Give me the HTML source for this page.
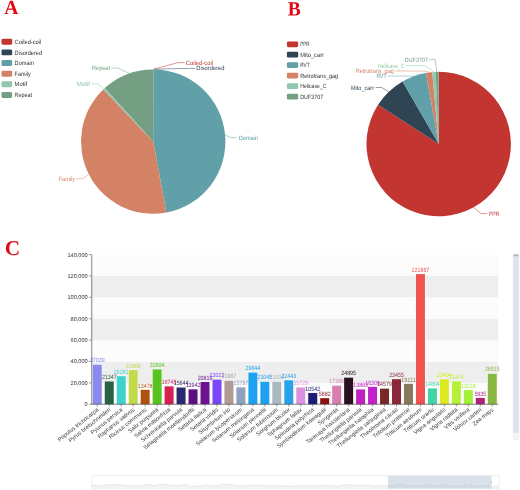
<!DOCTYPE html>
<html><head><meta charset="utf-8"><title>Figure</title>
<style>
html,body{margin:0;padding:0;background:#fff;}
body{width:520px;height:490px;overflow:hidden;font-family:"Liberation Sans", sans-serif;}
svg{display:block;}
text{font-family:"Liberation Sans", sans-serif;text-rendering:geometricPrecision;}
.pl{font-size:6.2px;}
.lg{font-size:6.2px;fill:#333;}
.ax{font-size:5.6px;fill:#333;}
.vl{font-size:6.2px;text-anchor:middle;}
.xl{font-size:5.7px;fill:#3a3a3a;text-anchor:end;}
</style></head><body>
<svg width="520" height="490" viewBox="0 0 520 490" style="will-change:transform">
<rect width="520" height="490" fill="#fff"/>

<path d="M8.37 13.25V13.96H4.50V13.25L5.45 12.99L9.97 0.87H12.73L17.23 12.99L18.20 13.25V13.96H12.54V13.25L14.01 12.99L12.79 9.63H7.91L6.74 12.99ZM10.39 2.83 8.30 8.57H12.43Z" fill="#e30613"/>
<path d="M296.11 5.57Q296.11 4.41 295.63 3.90Q295.15 3.39 294.05 3.39H292.73V8.00H294.13Q295.14 8.00 295.63 7.44Q296.11 6.89 296.11 5.57ZM297.07 11.68Q297.07 10.37 296.44 9.73Q295.81 9.08 294.37 9.08H292.73V14.45Q294.10 14.51 294.89 14.51Q296.00 14.51 296.53 13.81Q297.07 13.11 297.07 11.68ZM288.10 15.54V14.82L289.74 14.55V3.28L288.10 3.02V2.30H294.28Q296.81 2.30 298.02 3.01Q299.22 3.71 299.22 5.29Q299.22 6.48 298.51 7.34Q297.80 8.19 296.60 8.46Q298.38 8.65 299.29 9.46Q300.20 10.28 300.20 11.68Q300.20 13.61 298.83 14.60Q297.47 15.60 294.91 15.60L290.59 15.54Z" fill="#e30613"/>
<path d="M13.22 255.20Q9.73 255.20 7.76 253.37Q5.80 251.53 5.80 248.28Q5.80 244.76 7.67 242.93Q9.55 241.10 13.21 241.10Q15.63 241.10 18.23 241.79L18.29 245.09H17.36L17.07 243.10Q15.70 242.18 13.88 242.18Q11.47 242.18 10.36 243.66Q9.25 245.14 9.25 248.25Q9.25 251.13 10.41 252.64Q11.57 254.14 13.80 254.14Q14.97 254.14 15.85 253.84Q16.72 253.53 17.22 253.11L17.56 250.86H18.50L18.44 254.34Q17.50 254.70 16.01 254.95Q14.51 255.20 13.22 255.20Z" fill="#e30613"/>
<rect x="1.5" y="38.80" width="10.7" height="5.9" rx="1.4" fill="#c23531"/>
<text class="lg" x="14.60" y="43.85" textLength="26.75" lengthAdjust="spacingAndGlyphs">Coiled-coil</text>
<rect x="1.5" y="49.45" width="10.7" height="5.9" rx="1.4" fill="#2f4554"/>
<text class="lg" x="14.60" y="54.50" textLength="27.50" lengthAdjust="spacingAndGlyphs">Disordered</text>
<rect x="1.5" y="60.05" width="10.7" height="5.9" rx="1.4" fill="#61a0a8"/>
<text class="lg" x="14.60" y="65.10" textLength="19.25" lengthAdjust="spacingAndGlyphs">Domain</text>
<rect x="1.5" y="70.75" width="10.7" height="5.9" rx="1.4" fill="#d48265"/>
<text class="lg" x="14.60" y="75.80" textLength="16.00" lengthAdjust="spacingAndGlyphs">Family</text>
<rect x="1.5" y="81.35" width="10.7" height="5.9" rx="1.4" fill="#91c7ae"/>
<text class="lg" x="14.60" y="86.40" textLength="12.60" lengthAdjust="spacingAndGlyphs">Motif</text>
<rect x="1.5" y="92.05" width="10.7" height="5.9" rx="1.4" fill="#749f83"/>
<text class="lg" x="14.60" y="97.10" textLength="17.50" lengthAdjust="spacingAndGlyphs">Repeat</text>
<rect x="286.9" y="41.40" width="11.3" height="5.8" rx="1.4" fill="#c23531"/>
<text class="lg" x="300.20" y="46.40" textLength="9.50" lengthAdjust="spacingAndGlyphs">PPR</text>
<rect x="286.9" y="51.80" width="11.3" height="5.8" rx="1.4" fill="#2f4554"/>
<text class="lg" x="300.20" y="56.80" textLength="23.75" lengthAdjust="spacingAndGlyphs">Mito_carr</text>
<rect x="286.9" y="62.20" width="11.3" height="5.8" rx="1.4" fill="#61a0a8"/>
<text class="lg" x="300.20" y="67.20" textLength="9.50" lengthAdjust="spacingAndGlyphs">RVT</text>
<rect x="286.9" y="72.70" width="11.3" height="5.8" rx="1.4" fill="#d48265"/>
<text class="lg" x="300.20" y="77.70" textLength="38.00" lengthAdjust="spacingAndGlyphs">Retrotrans_gag</text>
<rect x="286.9" y="83.30" width="11.3" height="5.8" rx="1.4" fill="#91c7ae"/>
<text class="lg" x="300.20" y="88.30" textLength="26.25" lengthAdjust="spacingAndGlyphs">Helicase_C</text>
<rect x="286.9" y="93.80" width="11.3" height="5.8" rx="1.4" fill="#749f83"/>
<text class="lg" x="300.20" y="98.80" textLength="23.00" lengthAdjust="spacingAndGlyphs">DUF3707</text>
<path d="M153.20,141.60L153.20,69.40A72.2,72.2 0 0 1 153.30,69.40Z" fill="#c23531"/>
<path d="M153.20,141.60L153.30,69.40A72.2,72.2 0 0 1 153.40,69.40Z" fill="#2f4554"/>
<path d="M153.20,141.60L153.40,69.40A72.2,72.2 0 0 1 166.36,212.59Z" fill="#61a0a8"/>
<path d="M153.20,141.60L166.36,212.59A72.2,72.2 0 0 1 103.32,89.40Z" fill="#d48265"/>
<path d="M153.20,141.60L103.32,89.40A72.2,72.2 0 0 1 104.80,88.03Z" fill="#91c7ae"/>
<path d="M153.20,141.60L104.80,88.03A72.2,72.2 0 0 1 153.20,69.40Z" fill="#749f83"/>
<path d="M153.60,69.20L178.00,62.60L184.50,62.60" fill="none" stroke="#c23531" stroke-width="0.5"/>
<text class="pl" x="185.75" y="64.60" textLength="27.25" lengthAdjust="spacingAndGlyphs" fill="#c23531">Coiled-coil</text>
<path d="M154.00,69.20L188.00,68.40L195.00,68.40" fill="none" stroke="#2f4554" stroke-width="0.5"/>
<text class="pl" x="196.25" y="70.35" textLength="28.25" lengthAdjust="spacingAndGlyphs" fill="#2f4554">Disordered</text>
<path d="M225.10,135.00L231.00,137.60L236.50,137.60" fill="none" stroke="#61a0a8" stroke-width="0.5"/>
<text class="pl" x="238.75" y="139.60" textLength="19.25" lengthAdjust="spacingAndGlyphs" fill="#61a0a8">Domain</text>
<path d="M88.20,175.00L82.50,178.80L76.30,178.80" fill="none" stroke="#d48265" stroke-width="0.5"/>
<text class="pl" x="58.75" y="180.85" textLength="16.25" lengthAdjust="spacingAndGlyphs" fill="#d48265">Family</text>
<path d="M104.30,89.20L97.50,83.80L91.30,83.80" fill="none" stroke="#91c7ae" stroke-width="0.5"/>
<text class="pl" x="76.75" y="85.85" textLength="13.25" lengthAdjust="spacingAndGlyphs" fill="#91c7ae">Motif</text>
<path d="M129.30,73.30L117.50,68.00L111.30,68.00" fill="none" stroke="#749f83" stroke-width="0.5"/>
<text class="pl" x="92.00" y="70.10" textLength="18.00" lengthAdjust="spacingAndGlyphs" fill="#749f83">Repeat</text>
<path d="M438.70,144.05L438.70,71.85A72.2,72.2 0 1 1 378.08,104.83Z" fill="#c23531"/>
<path d="M438.70,144.05L378.08,104.83A72.2,72.2 0 0 1 402.60,81.52Z" fill="#2f4554"/>
<path d="M438.70,144.05L402.60,81.52A72.2,72.2 0 0 1 425.91,72.99Z" fill="#61a0a8"/>
<path d="M438.70,144.05L425.91,72.99A72.2,72.2 0 0 1 432.28,72.14Z" fill="#d48265"/>
<path d="M438.70,144.05L432.28,72.14A72.2,72.2 0 0 1 435.80,71.91Z" fill="#91c7ae"/>
<path d="M438.70,144.05L435.80,71.91A72.2,72.2 0 0 1 438.70,71.85Z" fill="#749f83"/>
<path d="M473.80,207.40L480.80,213.60L487.30,213.60" fill="none" stroke="#c23531" stroke-width="0.5"/>
<text class="pl" x="488.80" y="215.80" textLength="10.40" lengthAdjust="spacingAndGlyphs" fill="#c23531">PPR</text>
<path d="M388.50,91.60L381.70,87.50L375.60,87.50" fill="none" stroke="#2f4554" stroke-width="0.5"/>
<text class="pl" x="351.00" y="89.60" textLength="23.00" lengthAdjust="spacingAndGlyphs" fill="#2f4554">Mito_carr</text>
<path d="M414.50,76.30L408.00,76.10L387.90,76.10" fill="none" stroke="#61a0a8" stroke-width="0.5"/>
<text class="pl" x="376.50" y="78.10" textLength="10.00" lengthAdjust="spacingAndGlyphs" fill="#61a0a8">RVT</text>
<path d="M430.70,72.40L424.00,71.00L395.20,71.00" fill="none" stroke="#d48265" stroke-width="0.5"/>
<text class="pl" x="355.80" y="72.90" textLength="38.00" lengthAdjust="spacingAndGlyphs" fill="#d48265">Retrotrans_gag</text>
<path d="M434.00,72.00L425.00,65.50L405.80,65.50" fill="none" stroke="#91c7ae" stroke-width="0.5"/>
<text class="pl" x="377.90" y="67.50" textLength="26.50" lengthAdjust="spacingAndGlyphs" fill="#91c7ae">Helicase_C</text>
<path d="M436.80,72.00L435.20,59.60L429.20,59.60" fill="none" stroke="#749f83" stroke-width="0.5"/>
<text class="pl" x="404.80" y="61.70" textLength="23.10" lengthAdjust="spacingAndGlyphs" fill="#749f83">DUF3707</text>
<rect x="91.3" y="382.86" width="406.95" height="21.39" fill="#fcfcfc"/>
<rect x="91.3" y="361.47" width="406.95" height="21.39" fill="#eeeeee"/>
<rect x="91.3" y="340.08" width="406.95" height="21.39" fill="#fcfcfc"/>
<rect x="91.3" y="318.69" width="406.95" height="21.39" fill="#eeeeee"/>
<rect x="91.3" y="297.30" width="406.95" height="21.39" fill="#fcfcfc"/>
<rect x="91.3" y="275.91" width="406.95" height="21.39" fill="#eeeeee"/>
<rect x="91.3" y="254.52" width="406.95" height="21.39" fill="#fcfcfc"/>
<path d="M89.0,404.25H91.3" stroke="#333" stroke-width="0.5"/>
<text class="ax" x="87.7" y="406.25" text-anchor="end">0</text>
<path d="M89.0,382.86H91.3" stroke="#333" stroke-width="0.5"/>
<text class="ax" x="87.7" y="384.86" text-anchor="end">20,000</text>
<path d="M89.0,361.47H91.3" stroke="#333" stroke-width="0.5"/>
<text class="ax" x="87.7" y="363.47" text-anchor="end">40,000</text>
<path d="M89.0,340.08H91.3" stroke="#333" stroke-width="0.5"/>
<text class="ax" x="87.7" y="342.08" text-anchor="end">60,000</text>
<path d="M89.0,318.69H91.3" stroke="#333" stroke-width="0.5"/>
<text class="ax" x="87.7" y="320.69" text-anchor="end">80,000</text>
<path d="M89.0,297.30H91.3" stroke="#333" stroke-width="0.5"/>
<text class="ax" x="87.7" y="299.30" text-anchor="end">100,000</text>
<path d="M89.0,275.91H91.3" stroke="#333" stroke-width="0.5"/>
<text class="ax" x="87.7" y="277.91" text-anchor="end">120,000</text>
<path d="M89.0,254.52H91.3" stroke="#333" stroke-width="0.5"/>
<text class="ax" x="87.7" y="256.52" text-anchor="end">140,000</text>
<rect x="92.28" y="364.14" width="10.0" height="40.11" fill="#fff"/>
<rect x="92.78" y="364.64" width="9.0" height="39.61" fill="#8b8bef"/>
<rect x="104.25" y="380.92" width="10.0" height="23.33" fill="#fff"/>
<rect x="104.75" y="381.42" width="9.0" height="22.83" fill="#2a6244"/>
<rect x="116.22" y="375.64" width="10.0" height="28.61" fill="#fff"/>
<rect x="116.72" y="376.14" width="9.0" height="28.11" fill="#3ed3cb"/>
<rect x="128.19" y="369.56" width="10.0" height="34.69" fill="#fff"/>
<rect x="128.69" y="370.06" width="9.0" height="34.19" fill="#c2d94c"/>
<rect x="140.16" y="389.34" width="10.0" height="14.91" fill="#fff"/>
<rect x="140.66" y="389.84" width="9.0" height="14.41" fill="#b0520f"/>
<rect x="152.13" y="368.88" width="10.0" height="35.37" fill="#fff"/>
<rect x="152.63" y="369.38" width="9.0" height="34.87" fill="#58c31f"/>
<rect x="164.10" y="385.84" width="10.0" height="18.41" fill="#fff"/>
<rect x="164.60" y="386.34" width="9.0" height="17.91" fill="#d61f52"/>
<rect x="176.07" y="387.02" width="10.0" height="17.23" fill="#fff"/>
<rect x="176.57" y="387.52" width="9.0" height="16.73" fill="#29296f"/>
<rect x="188.04" y="388.84" width="10.0" height="15.41" fill="#fff"/>
<rect x="188.54" y="389.34" width="9.0" height="14.91" fill="#5d0f82"/>
<rect x="200.01" y="381.48" width="10.0" height="22.77" fill="#fff"/>
<rect x="200.51" y="381.98" width="9.0" height="22.27" fill="#6b1192"/>
<rect x="211.98" y="379.13" width="10.0" height="25.12" fill="#fff"/>
<rect x="212.48" y="379.63" width="9.0" height="24.62" fill="#7b46f5"/>
<rect x="223.94" y="380.26" width="10.0" height="23.99" fill="#fff"/>
<rect x="224.44" y="380.76" width="9.0" height="23.49" fill="#b09a96"/>
<rect x="235.91" y="386.86" width="10.0" height="17.39" fill="#fff"/>
<rect x="236.41" y="387.36" width="9.0" height="16.89" fill="#8fa1c0"/>
<rect x="247.88" y="372.05" width="10.0" height="32.20" fill="#fff"/>
<rect x="248.38" y="372.55" width="9.0" height="31.70" fill="#1fa1f1"/>
<rect x="259.85" y="381.24" width="10.0" height="23.01" fill="#fff"/>
<rect x="260.35" y="381.74" width="9.0" height="22.51" fill="#1fa1f1"/>
<rect x="271.82" y="381.19" width="10.0" height="23.06" fill="#fff"/>
<rect x="272.32" y="381.69" width="9.0" height="22.56" fill="#a9b8c1"/>
<rect x="283.79" y="379.75" width="10.0" height="24.50" fill="#fff"/>
<rect x="284.29" y="380.25" width="9.0" height="24.00" fill="#28a1e9"/>
<rect x="295.76" y="386.93" width="10.0" height="17.32" fill="#fff"/>
<rect x="296.26" y="387.43" width="9.0" height="16.82" fill="#dd91e1"/>
<rect x="307.73" y="392.48" width="10.0" height="11.77" fill="#fff"/>
<rect x="308.23" y="392.98" width="9.0" height="11.27" fill="#1c1c79"/>
<rect x="319.70" y="397.67" width="10.0" height="6.58" fill="#fff"/>
<rect x="320.20" y="398.17" width="9.0" height="6.08" fill="#8a1212"/>
<rect x="331.67" y="385.18" width="10.0" height="19.07" fill="#fff"/>
<rect x="332.17" y="385.68" width="9.0" height="18.57" fill="#d87fb0"/>
<rect x="343.64" y="377.12" width="10.0" height="27.13" fill="#fff"/>
<rect x="344.14" y="377.62" width="9.0" height="26.63" fill="#2a1020"/>
<rect x="355.61" y="388.90" width="10.0" height="15.35" fill="#fff"/>
<rect x="356.11" y="389.40" width="9.0" height="14.85" fill="#c121c1"/>
<rect x="367.57" y="386.31" width="10.0" height="17.94" fill="#fff"/>
<rect x="368.07" y="386.81" width="9.0" height="17.44" fill="#c121c9"/>
<rect x="379.54" y="388.16" width="10.0" height="16.09" fill="#fff"/>
<rect x="380.04" y="388.66" width="9.0" height="15.59" fill="#7a2828"/>
<rect x="391.51" y="378.66" width="10.0" height="25.59" fill="#fff"/>
<rect x="392.01" y="379.16" width="9.0" height="25.09" fill="#8a2839"/>
<rect x="403.48" y="383.31" width="10.0" height="20.94" fill="#fff"/>
<rect x="403.98" y="383.81" width="9.0" height="20.44" fill="#857a5a"/>
<rect x="415.45" y="273.63" width="10.0" height="130.62" fill="#fff"/>
<rect x="415.95" y="274.13" width="9.0" height="130.12" fill="#f05151"/>
<rect x="427.42" y="387.92" width="10.0" height="16.33" fill="#fff"/>
<rect x="427.92" y="388.42" width="9.0" height="15.83" fill="#40d5a6"/>
<rect x="439.39" y="378.72" width="10.0" height="25.53" fill="#fff"/>
<rect x="439.89" y="379.22" width="9.0" height="25.03" fill="#dcea1f"/>
<rect x="451.36" y="380.78" width="10.0" height="23.47" fill="#fff"/>
<rect x="451.86" y="381.28" width="9.0" height="22.97" fill="#b6f03b"/>
<rect x="463.33" y="389.61" width="10.0" height="14.64" fill="#fff"/>
<rect x="463.83" y="390.11" width="9.0" height="14.14" fill="#a5ee3b"/>
<rect x="475.30" y="397.40" width="10.0" height="6.85" fill="#fff"/>
<rect x="475.80" y="397.90" width="9.0" height="6.35" fill="#b0207b"/>
<rect x="487.27" y="373.25" width="10.0" height="31.00" fill="#fff"/>
<rect x="487.77" y="373.75" width="9.0" height="30.50" fill="#88b841"/>
<text class="vl" x="97.28" y="362.34" fill="#8b8bef" textLength="14.75" lengthAdjust="spacingAndGlyphs">37039</text>
<path d="M97.28,404.25v2.3" stroke="#333" stroke-width="0.5"/>
<text class="xl" transform="translate(98.98,410.35) rotate(-38.5)">Populus trichocarpa</text>
<text class="vl" x="109.25" y="379.12" fill="#2a6244" textLength="14.75" lengthAdjust="spacingAndGlyphs">21347</text>
<path d="M109.25,404.25v2.3" stroke="#333" stroke-width="0.5"/>
<text class="xl" transform="translate(110.95,410.35) rotate(-38.5)">Pyrus bretschneideri</text>
<text class="vl" x="121.22" y="373.84" fill="#3ed3cb" textLength="14.75" lengthAdjust="spacingAndGlyphs">26281</text>
<path d="M121.22,404.25v2.3" stroke="#333" stroke-width="0.5"/>
<text class="xl" transform="translate(122.92,410.35) rotate(-38.5)">Pyunus persica</text>
<text class="vl" x="133.19" y="367.76" fill="#c2d94c" textLength="14.75" lengthAdjust="spacingAndGlyphs">31968</text>
<path d="M133.19,404.25v2.3" stroke="#333" stroke-width="0.5"/>
<text class="xl" transform="translate(134.89,410.35) rotate(-38.5)">Raphanus sativus</text>
<text class="vl" x="145.16" y="387.54" fill="#b0520f" textLength="14.75" lengthAdjust="spacingAndGlyphs">13478</text>
<path d="M145.16,404.25v2.3" stroke="#333" stroke-width="0.5"/>
<text class="xl" transform="translate(146.86,410.35) rotate(-38.5)">Ricinus communis</text>
<text class="vl" x="157.13" y="367.08" fill="#58c31f" textLength="14.75" lengthAdjust="spacingAndGlyphs">32604</text>
<path d="M157.13,404.25v2.3" stroke="#333" stroke-width="0.5"/>
<text class="xl" transform="translate(158.83,410.35) rotate(-38.5)">Salix purpurea</text>
<text class="vl" x="169.10" y="384.04" fill="#d61f52" textLength="14.75" lengthAdjust="spacingAndGlyphs">16745</text>
<path d="M169.10,404.25v2.3" stroke="#333" stroke-width="0.5"/>
<text class="xl" transform="translate(170.80,410.35) rotate(-38.5)">Salvia miltiorrhiza</text>
<text class="vl" x="181.07" y="385.22" fill="#29296f" textLength="14.75" lengthAdjust="spacingAndGlyphs">15644</text>
<path d="M181.07,404.25v2.3" stroke="#333" stroke-width="0.5"/>
<text class="xl" transform="translate(182.77,410.35) rotate(-38.5)">Schrenkiella parvula</text>
<text class="vl" x="193.04" y="387.04" fill="#5d0f82" textLength="14.75" lengthAdjust="spacingAndGlyphs">13942</text>
<path d="M193.04,404.25v2.3" stroke="#333" stroke-width="0.5"/>
<text class="xl" transform="translate(194.74,410.35) rotate(-38.5)">Selaginella moellendorffii</text>
<text class="vl" x="205.01" y="379.68" fill="#6b1192" textLength="14.75" lengthAdjust="spacingAndGlyphs">20819</text>
<path d="M205.01,404.25v2.3" stroke="#333" stroke-width="0.5"/>
<text class="xl" transform="translate(206.71,410.35) rotate(-38.5)">Setaria italica</text>
<text class="vl" x="216.98" y="377.33" fill="#7b46f5" textLength="14.75" lengthAdjust="spacingAndGlyphs">23022</text>
<path d="M216.98,404.25v2.3" stroke="#333" stroke-width="0.5"/>
<text class="xl" transform="translate(218.68,410.35) rotate(-38.5)">Setaria viridis</text>
<text class="vl" x="228.94" y="378.46" fill="#b09a96" textLength="14.75" lengthAdjust="spacingAndGlyphs">21967</text>
<path d="M228.94,404.25v2.3" stroke="#333" stroke-width="0.5"/>
<text class="xl" transform="translate(230.64,410.35) rotate(-38.5)">Sisymbrium irio</text>
<text class="vl" x="240.91" y="385.06" fill="#8fa1c0" textLength="14.75" lengthAdjust="spacingAndGlyphs">15797</text>
<path d="M240.91,404.25v2.3" stroke="#333" stroke-width="0.5"/>
<text class="xl" transform="translate(242.61,410.35) rotate(-38.5)">Solanum lycopersicum</text>
<text class="vl" x="252.88" y="370.25" fill="#1fa1f1" textLength="14.75" lengthAdjust="spacingAndGlyphs">29644</text>
<path d="M252.88,404.25v2.3" stroke="#333" stroke-width="0.5"/>
<text class="xl" transform="translate(254.58,410.35) rotate(-38.5)">Solanum melongena</text>
<text class="vl" x="264.85" y="379.44" fill="#1fa1f1" textLength="14.75" lengthAdjust="spacingAndGlyphs">21045</text>
<path d="M264.85,404.25v2.3" stroke="#333" stroke-width="0.5"/>
<text class="xl" transform="translate(266.55,410.35) rotate(-38.5)">Solanum pennellii</text>
<text class="vl" x="276.82" y="379.39" fill="#a9b8c1" textLength="14.75" lengthAdjust="spacingAndGlyphs">21096</text>
<path d="M276.82,404.25v2.3" stroke="#333" stroke-width="0.5"/>
<text class="xl" transform="translate(278.52,410.35) rotate(-38.5)">Solanum tuberosum</text>
<text class="vl" x="288.79" y="377.95" fill="#28a1e9" textLength="14.75" lengthAdjust="spacingAndGlyphs">22443</text>
<path d="M288.79,404.25v2.3" stroke="#333" stroke-width="0.5"/>
<text class="xl" transform="translate(290.49,410.35) rotate(-38.5)">Sorghum bicolor</text>
<text class="vl" x="300.76" y="385.13" fill="#dd91e1" textLength="14.75" lengthAdjust="spacingAndGlyphs">15729</text>
<path d="M300.76,404.25v2.3" stroke="#333" stroke-width="0.5"/>
<text class="xl" transform="translate(302.46,410.35) rotate(-38.5)">Sphagnum fallax</text>
<text class="vl" x="312.73" y="390.68" fill="#1c1c79" textLength="14.75" lengthAdjust="spacingAndGlyphs">10542</text>
<path d="M312.73,404.25v2.3" stroke="#333" stroke-width="0.5"/>
<text class="xl" transform="translate(314.43,410.35) rotate(-38.5)">Spirodela polyrhiza</text>
<text class="vl" x="324.70" y="395.87" fill="#8a1212" textLength="11.80" lengthAdjust="spacingAndGlyphs">5682</text>
<path d="M324.70,404.25v2.3" stroke="#333" stroke-width="0.5"/>
<text class="xl" transform="translate(326.40,410.35) rotate(-38.5)">Symbiodinium kawagutii</text>
<text class="vl" x="336.67" y="383.38" fill="#d87fb0" textLength="14.75" lengthAdjust="spacingAndGlyphs">17366</text>
<path d="M336.67,404.25v2.3" stroke="#333" stroke-width="0.5"/>
<text class="xl" transform="translate(338.37,410.35) rotate(-38.5)">Syngenta</text>
<text class="vl" x="348.64" y="375.32" fill="#2a1020" textLength="14.75" lengthAdjust="spacingAndGlyphs">24895</text>
<path d="M348.64,404.25v2.3" stroke="#333" stroke-width="0.5"/>
<text class="xl" transform="translate(350.34,410.35) rotate(-38.5)">Tarenaya hassleriana</text>
<text class="vl" x="360.61" y="387.10" fill="#c121c1" textLength="14.75" lengthAdjust="spacingAndGlyphs">13883</text>
<path d="M360.61,404.25v2.3" stroke="#333" stroke-width="0.5"/>
<text class="xl" transform="translate(362.31,410.35) rotate(-38.5)">Thellungiella parvula</text>
<text class="vl" x="372.57" y="384.51" fill="#c121c9" textLength="14.75" lengthAdjust="spacingAndGlyphs">16309</text>
<path d="M372.57,404.25v2.3" stroke="#333" stroke-width="0.5"/>
<text class="xl" transform="translate(374.27,410.35) rotate(-38.5)">Thellungiella halophila</text>
<text class="vl" x="384.54" y="386.36" fill="#7a2828" textLength="14.75" lengthAdjust="spacingAndGlyphs">14579</text>
<path d="M384.54,404.25v2.3" stroke="#333" stroke-width="0.5"/>
<text class="xl" transform="translate(386.24,410.35) rotate(-38.5)">Thellungiella salsuginea</text>
<text class="vl" x="396.51" y="376.86" fill="#8a2839" textLength="14.75" lengthAdjust="spacingAndGlyphs">23455</text>
<path d="M396.51,404.25v2.3" stroke="#333" stroke-width="0.5"/>
<text class="xl" transform="translate(398.21,410.35) rotate(-38.5)">Theobroma cacao</text>
<text class="vl" x="408.48" y="381.51" fill="#857a5a" textLength="14.75" lengthAdjust="spacingAndGlyphs">19111</text>
<path d="M408.48,404.25v2.3" stroke="#333" stroke-width="0.5"/>
<text class="xl" transform="translate(410.18,410.35) rotate(-38.5)">Trifolium pratense</text>
<text class="vl" x="420.45" y="271.83" fill="#f05151" textLength="17.70" lengthAdjust="spacingAndGlyphs">121667</text>
<path d="M420.45,404.25v2.3" stroke="#333" stroke-width="0.5"/>
<text class="xl" transform="translate(422.15,410.35) rotate(-38.5)">Triticum aestivum</text>
<text class="vl" x="432.42" y="386.12" fill="#40d5a6" textLength="14.75" lengthAdjust="spacingAndGlyphs">14804</text>
<path d="M432.42,404.25v2.3" stroke="#333" stroke-width="0.5"/>
<text class="xl" transform="translate(434.12,410.35) rotate(-38.5)">Triticum urartu</text>
<text class="vl" x="444.39" y="376.92" fill="#dcea1f" textLength="14.75" lengthAdjust="spacingAndGlyphs">23404</text>
<path d="M444.39,404.25v2.3" stroke="#333" stroke-width="0.5"/>
<text class="xl" transform="translate(446.09,410.35) rotate(-38.5)">Vigna angularis</text>
<text class="vl" x="456.36" y="378.98" fill="#b6f03b" textLength="14.75" lengthAdjust="spacingAndGlyphs">21474</text>
<path d="M456.36,404.25v2.3" stroke="#333" stroke-width="0.5"/>
<text class="xl" transform="translate(458.06,410.35) rotate(-38.5)">Vigna radiata</text>
<text class="vl" x="468.33" y="387.81" fill="#a5ee3b" textLength="14.75" lengthAdjust="spacingAndGlyphs">13218</text>
<path d="M468.33,404.25v2.3" stroke="#333" stroke-width="0.5"/>
<text class="xl" transform="translate(470.03,410.35) rotate(-38.5)">Vitis vinifera</text>
<text class="vl" x="480.30" y="395.60" fill="#b0207b" textLength="11.80" lengthAdjust="spacingAndGlyphs">5935</text>
<path d="M480.30,404.25v2.3" stroke="#333" stroke-width="0.5"/>
<text class="xl" transform="translate(482.00,410.35) rotate(-38.5)">Volvox carteri</text>
<text class="vl" x="492.27" y="371.45" fill="#88b841" textLength="14.75" lengthAdjust="spacingAndGlyphs">28515</text>
<path d="M492.27,404.25v2.3" stroke="#333" stroke-width="0.5"/>
<text class="xl" transform="translate(493.97,410.35) rotate(-38.5)">Zea mays</text>
<path d="M91.75,254.52V404.25" stroke="#333" stroke-width="0.6" fill="none"/>
<path d="M91.3,404.25H498.25" stroke="#333" stroke-width="0.6" fill="none"/>
<rect x="513.2" y="254.2" width="5.6" height="185.4" rx="1.2" fill="#f2f4f8" stroke="#e6e9ef" stroke-width="0.5"/>
<rect x="513.2" y="254.2" width="5.6" height="178.8" rx="1.2" fill="#dde3ee"/>
<path d="M513.3,256.2V255.1L516,253.9L518.7,255.1V256.2Z" fill="#b9b9b9"/>
<rect x="92" y="475.8" width="407.7" height="12.699999999999989" fill="#fff" stroke="#e6e6e6" stroke-width="0.6"/>
<path d="M92,488.5L92.00,485.67L94.72,485.59L97.44,485.77L100.15,485.92L102.87,485.12L105.59,484.56L108.31,484.98L111.03,485.20L113.74,484.82L116.46,484.49L119.18,484.66L121.90,484.78L124.62,485.25L127.33,485.72L130.05,485.82L132.77,485.97L135.49,485.95L138.21,485.72L140.92,485.62L143.64,485.50L146.36,484.60L149.08,484.27L151.80,485.20L154.51,485.77L157.23,485.02L159.95,484.35L162.67,484.49L165.39,484.46L168.10,484.93L170.82,485.33L173.54,485.31L176.26,485.46L178.98,485.58L181.69,485.07L184.41,484.33L187.13,485.08L189.85,486.14L192.57,486.17L195.28,485.95L198.00,485.90L200.72,485.92L203.44,485.43L206.16,484.74L208.87,485.19L211.59,485.95L214.31,486.03L217.03,485.90L219.75,485.01L222.46,484.42L225.18,484.63L227.90,484.36L230.62,484.29L233.34,484.69L236.05,485.53L238.77,485.92L241.49,485.50L244.21,485.45L246.93,485.73L249.64,485.43L252.36,484.86L255.08,485.12L257.80,485.29L260.52,485.03L263.23,485.38L265.95,485.77L268.67,485.69L271.39,485.72L274.11,485.94L276.82,485.93L279.54,485.82L282.26,485.85L284.98,485.96L287.70,486.15L290.41,486.13L293.13,485.90L295.85,485.82L298.57,485.83L301.29,485.80L304.00,485.77L306.72,485.56L309.44,485.48L312.16,485.80L314.88,485.91L317.59,485.65L320.31,485.56L323.03,485.59L325.75,485.59L328.47,485.65L331.18,485.70L333.90,485.87L336.62,486.09L339.34,486.09L342.06,485.48L344.77,484.59L347.49,484.86L350.21,485.28L352.93,485.09L355.65,485.47L358.36,485.25L361.08,484.72L363.80,485.49L366.52,485.57L369.24,484.96L371.95,485.56L374.67,485.92L377.39,485.66L380.11,485.73L382.83,485.89L385.54,485.99L388.26,485.78L390.98,485.62L393.70,485.38L396.42,484.42L399.13,484.06L401.85,485.03L404.57,485.84L407.29,486.02L410.01,485.86L412.72,485.72L415.44,485.87L418.16,485.97L420.88,485.95L423.60,485.32L426.31,484.70L429.03,485.22L431.75,485.84L434.47,486.10L437.19,486.03L439.90,485.03L442.62,484.37L445.34,485.24L448.06,485.89L450.78,485.90L453.49,486.09L456.21,486.11L458.93,485.99L461.65,485.92L464.37,485.50L467.08,485.07L468.40,485.30L471.20,478.00L474.20,485.30L475.24,486.03L477.96,485.97L480.67,485.76L483.39,485.83L486.11,485.82L488.83,485.74L491.55,485.98L494.26,486.09L496.98,485.92L499.70,485.97L499.7,488.5Z" fill="#f3f4f5"/>
<path d="M92.00,485.67L94.72,485.59L97.44,485.77L100.15,485.92L102.87,485.12L105.59,484.56L108.31,484.98L111.03,485.20L113.74,484.82L116.46,484.49L119.18,484.66L121.90,484.78L124.62,485.25L127.33,485.72L130.05,485.82L132.77,485.97L135.49,485.95L138.21,485.72L140.92,485.62L143.64,485.50L146.36,484.60L149.08,484.27L151.80,485.20L154.51,485.77L157.23,485.02L159.95,484.35L162.67,484.49L165.39,484.46L168.10,484.93L170.82,485.33L173.54,485.31L176.26,485.46L178.98,485.58L181.69,485.07L184.41,484.33L187.13,485.08L189.85,486.14L192.57,486.17L195.28,485.95L198.00,485.90L200.72,485.92L203.44,485.43L206.16,484.74L208.87,485.19L211.59,485.95L214.31,486.03L217.03,485.90L219.75,485.01L222.46,484.42L225.18,484.63L227.90,484.36L230.62,484.29L233.34,484.69L236.05,485.53L238.77,485.92L241.49,485.50L244.21,485.45L246.93,485.73L249.64,485.43L252.36,484.86L255.08,485.12L257.80,485.29L260.52,485.03L263.23,485.38L265.95,485.77L268.67,485.69L271.39,485.72L274.11,485.94L276.82,485.93L279.54,485.82L282.26,485.85L284.98,485.96L287.70,486.15L290.41,486.13L293.13,485.90L295.85,485.82L298.57,485.83L301.29,485.80L304.00,485.77L306.72,485.56L309.44,485.48L312.16,485.80L314.88,485.91L317.59,485.65L320.31,485.56L323.03,485.59L325.75,485.59L328.47,485.65L331.18,485.70L333.90,485.87L336.62,486.09L339.34,486.09L342.06,485.48L344.77,484.59L347.49,484.86L350.21,485.28L352.93,485.09L355.65,485.47L358.36,485.25L361.08,484.72L363.80,485.49L366.52,485.57L369.24,484.96L371.95,485.56L374.67,485.92L377.39,485.66L380.11,485.73L382.83,485.89L385.54,485.99L388.26,485.78L390.98,485.62L393.70,485.38L396.42,484.42L399.13,484.06L401.85,485.03L404.57,485.84L407.29,486.02L410.01,485.86L412.72,485.72L415.44,485.87L418.16,485.97L420.88,485.95L423.60,485.32L426.31,484.70L429.03,485.22L431.75,485.84L434.47,486.10L437.19,486.03L439.90,485.03L442.62,484.37L445.34,485.24L448.06,485.89L450.78,485.90L453.49,486.09L456.21,486.11L458.93,485.99L461.65,485.92L464.37,485.50L467.08,485.07L468.40,485.30L471.20,478.00L474.20,485.30L475.24,486.03L477.96,485.97L480.67,485.76L483.39,485.83L486.11,485.82L488.83,485.74L491.55,485.98L494.26,486.09L496.98,485.92L499.70,485.97" fill="none" stroke="#d3d6da" stroke-width="0.5"/>
<rect x="388" y="475.8" width="103.30000000000001" height="12.699999999999989" fill="#a7b7cc" fill-opacity="0.42"/>
<path d="M468.4,485.3L471.2,478.0L474.2,485.3" fill="none" stroke="#eef1f6" stroke-width="0.7"/>
<path d="M491.4,481.2v2.4" stroke="#8a93a3" stroke-width="0.6"/>
</svg>
</body></html>
